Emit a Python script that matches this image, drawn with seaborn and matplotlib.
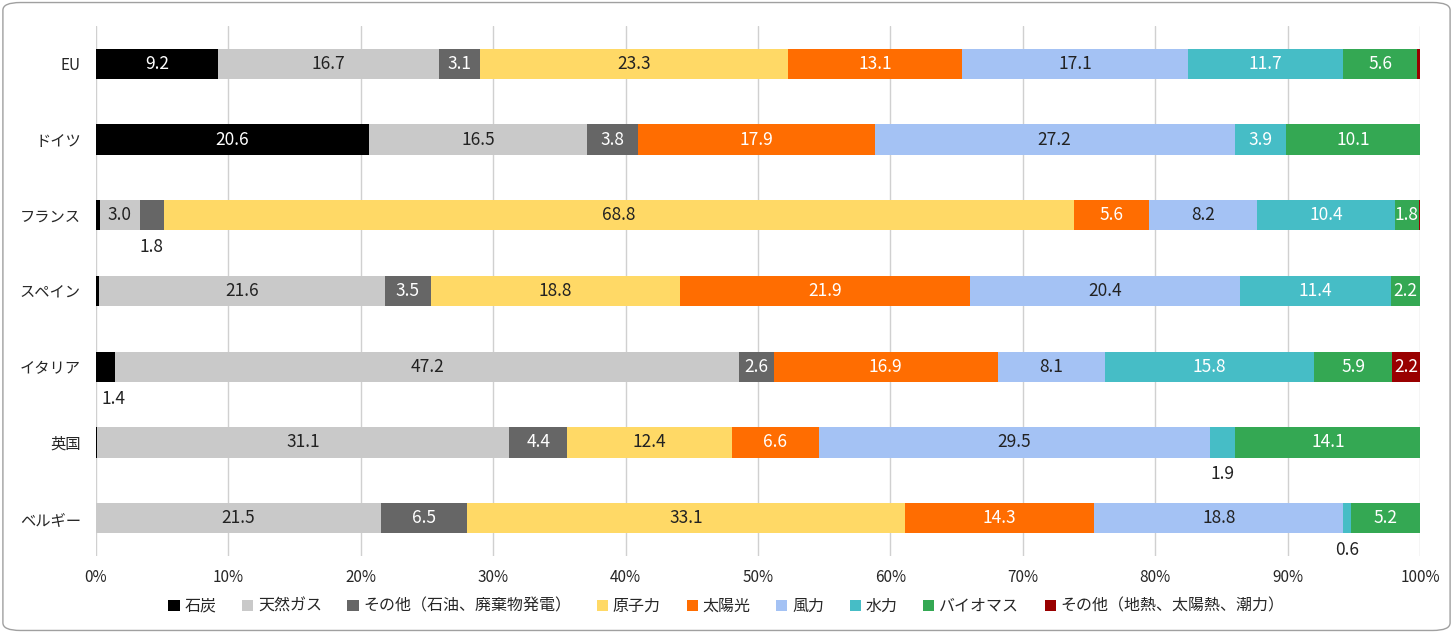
import matplotlib
matplotlib.use("Agg")
import matplotlib.pyplot as plt
from matplotlib.patches import FancyBboxPatch, Patch
import seaborn as sns
import numpy as np
import pandas as pd

countries = ["EU", "ドイツ", "フランス", "スペイン", "イタリア", "英国", "ベルギー"]
sources = ["石炭", "天然ガス", "その他（石油、廃棄物発電）", "原子力", "太陽光",
           "風力", "水力", "バイオマス", "その他（地熱、太陽熱、潮力）"]
coal    = [9.2, 20.6, 0.3, 0.2, 1.4, 0.1, 0.0]
gas     = [16.7, 16.5, 3.0, 21.6, 47.2, 31.1, 21.5]
oil     = [3.1, 3.8, 1.8, 3.5, 2.6, 4.4, 6.5]
nuclear = [23.3, 0.0, 68.8, 18.8, 0.0, 12.4, 33.1]
solar   = [13.1, 17.9, 5.6, 21.9, 16.9, 6.6, 14.3]
wind    = [17.1, 27.2, 8.2, 20.4, 8.1, 29.5, 18.8]
hydro   = [11.7, 3.9, 10.4, 11.4, 15.8, 1.9, 0.6]
biomass = [5.6, 10.1, 1.8, 2.2, 5.9, 14.1, 5.2]
other   = [0.2, 0.0, 0.1, 0.0, 2.2, 0.0, 0.0]

colors = ["#000000", "#c9c9c9", "#666666", "#ffd966", "#ff6d01",
          "#a4c2f4", "#46bdc6", "#34a853", "#990000"]
text_colors = ["white", "#222222", "white", "#222222", "white",
               "#222222", "white", "white", "white"]
# segments whose label sits below the bar
below = {("フランス", 2), ("イタリア", 0), ("英国", 6), ("ベルギー", 6)}

df = pd.DataFrame(np.array([coal, gas, oil, nuclear, solar, wind, hydro, biomass, other]).T,
                  index=countries, columns=sources)
cum = df.cumsum(axis=1)

sns.set_theme(style="white")
plt.rcParams["font.family"] = ["Noto Sans CJK JP", "DejaVu Sans"]

fig = plt.figure(figsize=(14.53, 6.33), dpi=100)
fig.patches.append(FancyBboxPatch((0.002, 0.004), 0.996, 0.992, boxstyle="round,pad=0,rounding_size=0.012",
                                  transform=fig.transFigure, facecolor="white",
                                  edgecolor="#a0a0a0", linewidth=1.0, zorder=-1))
ax = fig.add_axes([0.0661, 0.1216, 0.9112, 0.8373])
ax.set_facecolor("none")

for i in range(len(sources) - 1, -1, -1):
    sns.barplot(x=cum[sources[i]].values, y=countries, color=colors[i], orient="h",
                width=0.4, ax=ax, saturation=1, linewidth=0, zorder=2)

for r, c in enumerate(countries):
    for i, s in enumerate(sources):
        v = df.loc[c, s]
        if v < 0.5:
            continue
        xc = cum.loc[c, s] - v / 2
        if (c, i) in below:
            ax.text(max(xc, 1.3), r + 0.42, f"{v:.1f}", ha="center", va="center",
                    fontsize=12.5, color="#222222")
        else:
            ax.text(xc, r, f"{v:.1f}", ha="center", va="center", fontsize=12.5,
                    color=text_colors[i], zorder=3)

ax.set_xlim(0, 100)
ax.set_ylim(6.5, -0.5)
ax.set_xticks(np.arange(0, 101, 10))
ax.set_xticklabels([f"{t}%" for t in range(0, 101, 10)], fontsize=11)
ax.tick_params(axis="y", labelsize=11, pad=11, length=0)
ax.tick_params(axis="x", pad=9, length=0)
ax.xaxis.grid(True, color="#d0d0d0", linewidth=1, zorder=0)
ax.set_axisbelow(True)
ax.set_xlabel("")
ax.set_ylabel("")
for sp in ax.spines.values():
    sp.set_visible(False)

handles = [Patch(facecolor=colors[i], edgecolor="none", label=sources[i]) for i in range(len(sources))]
fig.legend(handles=handles, loc="center", bbox_to_anchor=(0.5, 0.042), ncol=9, frameon=False,
           fontsize=11.5, handlelength=0.7, handleheight=0.7, handletextpad=0.3, columnspacing=1.6)

fig.savefig("out.png", dpi=100)
